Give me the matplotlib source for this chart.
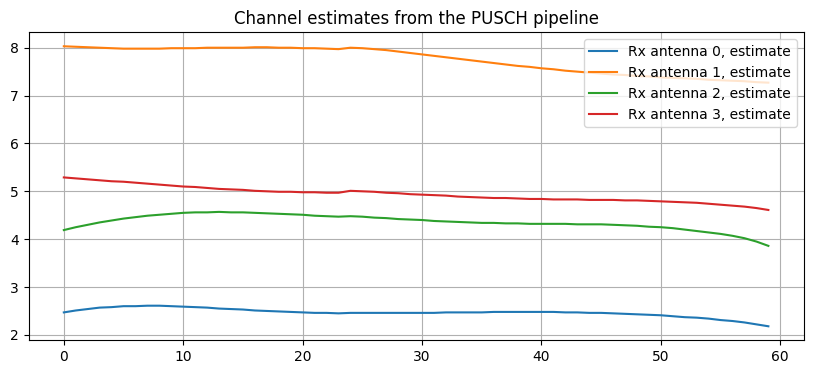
import numpy as np
import matplotlib
matplotlib.use('Agg')
import matplotlib.pyplot as plt

# subcarrier index
x = np.arange(60)

# channel estimate magnitude per rx antenna
ant0 = [2.47, 2.51, 2.54, 2.57, 2.58, 2.60, 2.60, 2.61, 2.61, 2.60,
        2.59, 2.58, 2.57, 2.55, 2.54, 2.53, 2.51, 2.50, 2.49, 2.48,
        2.47, 2.46, 2.46, 2.45, 2.46, 2.46, 2.46, 2.46, 2.46, 2.46,
        2.46, 2.46, 2.47, 2.47, 2.47, 2.47, 2.48, 2.48, 2.48, 2.48,
        2.48, 2.48, 2.47, 2.47, 2.46, 2.46, 2.45, 2.44, 2.43, 2.42,
        2.41, 2.39, 2.37, 2.36, 2.34, 2.31, 2.29, 2.26, 2.22, 2.18]
ant1 = [8.03, 8.02, 8.01, 8.00, 7.99, 7.98, 7.98, 7.98, 7.98, 7.99,
        7.99, 7.99, 8.00, 8.00, 8.00, 8.00, 8.01, 8.01, 8.00, 8.00,
        7.99, 7.99, 7.98, 7.97, 8.00, 7.99, 7.97, 7.95, 7.92, 7.89,
        7.86, 7.83, 7.80, 7.77, 7.74, 7.71, 7.68, 7.65, 7.62, 7.60,
        7.57, 7.55, 7.52, 7.50, 7.48, 7.46, 7.44, 7.43, 7.41, 7.40,
        7.38, 7.37, 7.36, 7.35, 7.33, 7.32, 7.31, 7.30, 7.28, 7.27]
ant2 = [4.19, 4.25, 4.30, 4.35, 4.39, 4.43, 4.46, 4.49, 4.51, 4.53,
        4.55, 4.56, 4.56, 4.57, 4.56, 4.56, 4.55, 4.54, 4.53, 4.52,
        4.51, 4.49, 4.48, 4.47, 4.48, 4.47, 4.45, 4.44, 4.42, 4.41,
        4.40, 4.38, 4.37, 4.36, 4.35, 4.34, 4.34, 4.33, 4.33, 4.32,
        4.32, 4.32, 4.32, 4.31, 4.31, 4.31, 4.30, 4.29, 4.28, 4.26,
        4.25, 4.23, 4.20, 4.17, 4.14, 4.11, 4.07, 4.02, 3.95, 3.86]
ant3 = [5.29, 5.27, 5.25, 5.23, 5.21, 5.20, 5.18, 5.16, 5.14, 5.12,
        5.10, 5.09, 5.07, 5.05, 5.04, 5.03, 5.01, 5.00, 4.99, 4.99,
        4.98, 4.98, 4.97, 4.97, 5.01, 5.00, 4.99, 4.97, 4.96, 4.94,
        4.93, 4.92, 4.91, 4.89, 4.88, 4.87, 4.86, 4.86, 4.85, 4.84,
        4.84, 4.83, 4.83, 4.83, 4.82, 4.82, 4.82, 4.81, 4.81, 4.80,
        4.79, 4.78, 4.77, 4.76, 4.74, 4.72, 4.70, 4.68, 4.65, 4.61]

fig = plt.figure(figsize=(10, 4))
for i, est in enumerate([ant0, ant1, ant2, ant3]):
    plt.plot(x, est, label='Rx antenna {}, estimate'.format(i))
plt.title('Channel estimates from the PUSCH pipeline')
plt.grid()
plt.legend(loc='upper right')
plt.savefig('out.png', bbox_inches='tight')
